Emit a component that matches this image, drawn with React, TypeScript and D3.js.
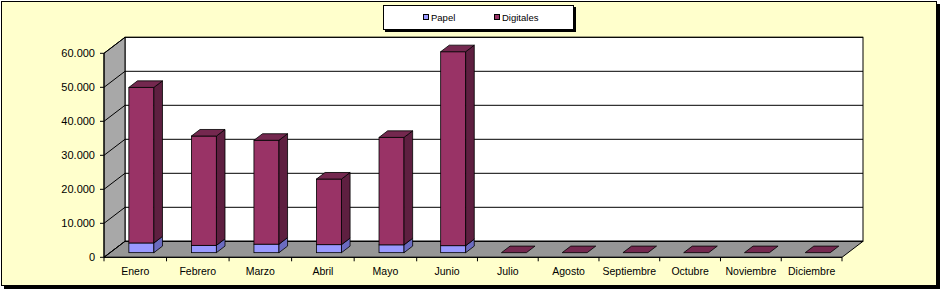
import React from "react";
import * as d3 from "d3";

const months = ["Enero","Febrero","Marzo","Abril","Mayo","Junio","Julio","Agosto","Septiembre","Octubre","Noviembre","Diciembre"];
const papel = [2850, 2150, 2500, 2350, 2300, 2050, 0, 0, 0, 0, 0, 0];
const digitales = [45750, 32150, 30550, 19300, 31600, 57050, 0, 0, 0, 0, 0, 0];
const yTicks = [0, 10000, 20000, 30000, 40000, 50000, 60000];
const seriesNames = ["Papel", "Digitales"];

const W = 942, H = 291;
const X0 = 104, X1 = 842, YB = 257.3, YT = 53.3;
const DX = 21, DY = -16;
const F0 = 0.29, F1 = 0.7;

const colors = {
  papel: { front: "#9999FF", side: "#6B6BC0", top: "#7F7FDD" },
  dig: { front: "#993366", side: "#5E1F40", top: "#74284F" },
};

const fmt = (v: number) => (v === 0 ? "0" : d3.format(",")(v).replace(/,/g, "."));

export default function App() {
  // category boundary scale (index -> x on front plane)
  const xb = d3.scaleLinear().domain([0, 5, 12]).range([X0, 416.7, X1]);
  const y = d3.scaleLinear().domain([0, 60000]).range([YB, YT]);
  const barW = 25;
  const p = (px: number, py: number, f: number) => [px + f * DX, py + f * DY];
  const pts = (arr: number[][]) => arr.map((a) => a.join(",")).join(" ");

  const bars: React.ReactNode[] = [];
  months.forEach((m, i) => {
    const bw = xb(i + 1) - xb(i);
    const xa = xb(i) + (bw - barW) / 2;
    const xr = xa + barW;
    const segs = [
      { v0: 0, v1: papel[i], c: colors.papel },
      { v0: papel[i], v1: papel[i] + digitales[i], c: colors.dig },
    ];
    const total = papel[i] + digitales[i];
    if (total === 0) {
      const yy = y(0);
      bars.push(
        <polygon key={m + "z"} points={pts([p(xa, yy, F0), p(xr, yy, F0), p(xr, yy, F1), p(xa, yy, F1)])}
          fill={colors.dig.top} stroke="#000" strokeWidth={0.8} />
      );
      return;
    }
    segs.forEach((s, j) => {
      if (s.v1 - s.v0 <= 0) return;
      const yt = y(s.v1), yb = y(s.v0);
      const fl = p(xa, yt, F0);
      bars.push(
        <g key={m + j}>
          <rect x={fl[0]} y={fl[1]} width={barW} height={yb - yt} fill={s.c.front} stroke="#000" strokeWidth={0.8} />
          <polygon points={pts([p(xr, yt, F0), p(xr, yt, F1), p(xr, yb, F1), p(xr, yb, F0)])}
            fill={s.c.side} stroke="#000" strokeWidth={0.8} />
          {j === segs.length - 1 && (
            <polygon points={pts([p(xa, yt, F0), p(xr, yt, F0), p(xr, yt, F1), p(xa, yt, F1)])}
              fill={s.c.top} stroke="#000" strokeWidth={0.8} />
          )}
        </g>
      );
    });
  });

  const font = "Liberation Sans, Arial, sans-serif";

  return (
    <svg width={W} height={H} style={{ position: "absolute", left: 0, top: 0 }} fontFamily={font}>
      <rect x={4} y={4} width={936} height={285} fill="#000" />
      <rect x={1.5} y={1.5} width={935} height={284} fill="#FFFFCC" stroke="#000" strokeWidth={1} />

      <rect x={385} y={7} width={191} height={25} fill="#000" />
      <rect x={383.5} y={5.5} width={190} height={24} fill="#fff" stroke="#000" strokeWidth={1} />
      <rect x={423.5} y={14.5} width={5} height={5} fill={colors.papel.front} stroke="#000" strokeWidth={1} />
      <text x={431} y={21} fontSize={9.5} fill="#000">{seriesNames[0]}</text>
      <rect x={494.5} y={14.5} width={5} height={5} fill={colors.dig.front} stroke="#000" strokeWidth={1} />
      <text x={502} y={21} fontSize={9.5} fill="#000">{seriesNames[1]}</text>

      <rect x={X0 + DX} y={YT + DY} width={X1 - X0} height={YB - YT} fill="#fff" stroke="#000" strokeWidth={1} />
      <polygon points={pts([[X0, YB], [X0, YT], [X0 + DX, YT + DY], [X0 + DX, YB + DY]])} fill="#A8A8A8" stroke="#000" strokeWidth={1} />
      <polygon points={pts([[X0, YB], [X1, YB], [X1 + DX, YB + DY], [X0 + DX, YB + DY]])} fill="#969696" stroke="#000" strokeWidth={1} />

      {yTicks.map((t) => (
        <g key={"g" + t}>
          <line x1={X0 + DX} x2={X1 + DX} y1={y(t) + DY} y2={y(t) + DY} stroke="#000" strokeWidth={1} />
          <line x1={X0} y1={y(t)} x2={X0 + DX} y2={y(t) + DY} stroke="#000" strokeWidth={1} />
          <line x1={X0 - 4} x2={X0} y1={y(t)} y2={y(t)} stroke="#000" strokeWidth={1} />
          <text x={95} y={y(t) + 4} textAnchor="end" fontSize={11} fill="#000">{fmt(t)}</text>
        </g>
      ))}
      <line x1={X0} x2={X0} y1={YT} y2={YB} stroke="#000" strokeWidth={1} />
      <line x1={X0} x2={X1} y1={YB} y2={YB} stroke="#000" strokeWidth={1} />
      {d3.range(months.length + 1).map((i) => (
        <line key={"t" + i} x1={xb(i)} x2={xb(i)} y1={YB} y2={YB + 4} stroke="#000" strokeWidth={1} />
      ))}

      {bars}

      {months.map((m, i) => (
        <text key={"l" + m} x={(xb(i) + xb(i + 1)) / 2} y={275} textAnchor="middle" fontSize={10.5} fill="#000">{m}</text>
      ))}
    </svg>
  );
}
